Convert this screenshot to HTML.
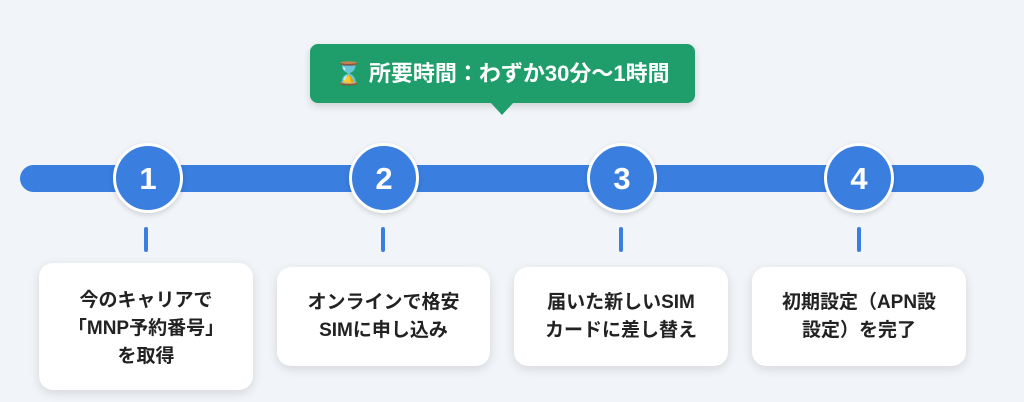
<!DOCTYPE html>
<html><head><meta charset="utf-8"><style>
body{margin:0;width:1024px;height:402px;background:#f1f4f8;position:relative;overflow:hidden;font-family:"Liberation Sans","Noto Sans CJK JP",sans-serif;}
.bar{position:absolute;left:20px;top:165px;width:964px;height:27px;border-radius:14px;background:#3a7fe0;}
.c{position:absolute;top:143px;width:64px;height:64px;border-radius:50%;background:#3a7fe0;border:3px solid #fff;box-shadow:0 2px 6px rgba(0,0,0,.15);color:#fff;font-weight:bold;font-size:31px;text-align:center;line-height:66px;}
.t{position:absolute;top:227px;width:4px;height:25px;background:#3a7fe0;border-radius:2px;}
.card{position:absolute;background:#fff;border-radius:14px;box-shadow:0 3px 10px rgba(0,0,0,.12);display:flex;align-items:center;justify-content:center;text-align:center;font-weight:bold;font-size:19px;line-height:28px;color:#222;}
.ban{position:absolute;left:310px;top:44px;width:385px;height:59px;background:#1f9e6b;border-radius:8px;box-shadow:0 3px 8px rgba(0,0,0,.15);color:#fff;font-weight:bold;font-size:22px;line-height:59px;text-align:center;}
.ptr{position:absolute;left:490px;top:102px;width:0;height:0;border-left:12px solid transparent;border-right:12px solid transparent;border-top:13px solid #1f9e6b;}
</style></head><body>
<div class="ban">⌛ 所要時間：わずか30分〜1時間</div>
<div class="ptr"></div>
<div class="bar"></div>
<div class="c" style="left:113px">1</div>
<div class="c" style="left:349px">2</div>
<div class="c" style="left:587px">3</div>
<div class="c" style="left:824px">4</div>
<div class="t" style="left:144px"></div>
<div class="t" style="left:381px"></div>
<div class="t" style="left:619px"></div>
<div class="t" style="left:857px"></div>
<div class="card" style="left:39px;top:263px;width:214px;height:127px;padding-top:4px;box-sizing:border-box">今のキャリアで<br>「MNP予約番号」<br>を取得</div>
<div class="card" style="left:277px;top:267px;width:213px;height:99px">オンラインで格安<br>SIMに申し込み</div>
<div class="card" style="left:514px;top:267px;width:214px;height:99px">届いた新しいSIM<br>カードに差し替え</div>
<div class="card" style="left:752px;top:267px;width:214px;height:99px">初期設定（APN設<br>設定）を完了</div>
</body></html>
